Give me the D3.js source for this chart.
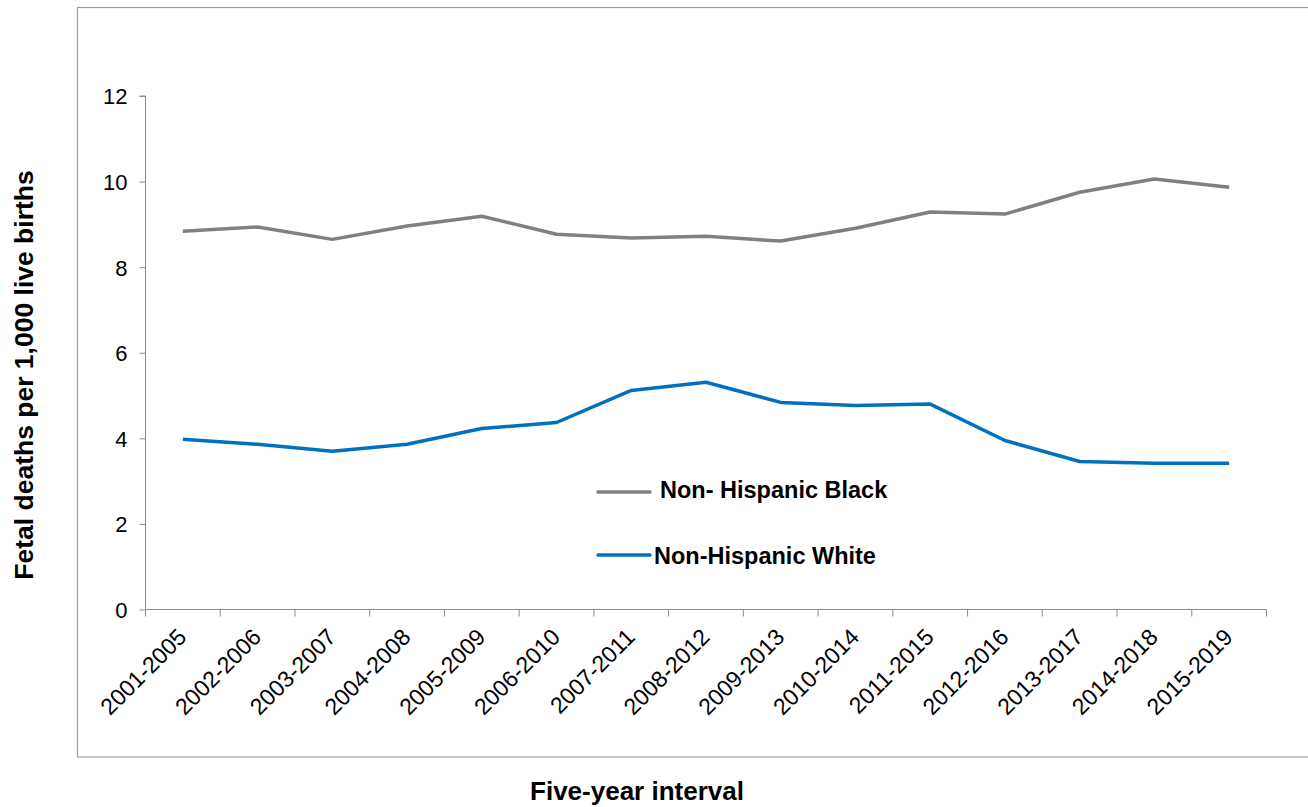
<!DOCTYPE html>
<html><head><meta charset="utf-8">
<script src="https://cdn.jsdelivr.net/npm/d3@7"></script>
<style>body{margin:0;background:#fff;}svg{display:block;font-family:"Liberation Sans",Arial,sans-serif;}</style>
</head><body>
<svg id="c" width="1308" height="807"></svg>
<script>
const categories = ["2001-2005","2002-2006","2003-2007","2004-2008","2005-2009","2006-2010","2007-2011","2008-2012","2009-2013","2010-2014","2011-2015","2012-2016","2013-2017","2014-2018","2015-2019"];
const blackValues = [8.84,8.94,8.65,8.96,9.19,8.77,8.68,8.72,8.61,8.91,9.29,9.24,9.75,10.06,9.87];
const whiteValues = [3.98,3.86,3.70,3.86,4.23,4.37,5.12,5.31,4.84,4.77,4.80,3.95,3.46,3.42,3.42];
const yTicks = [0,2,4,6,8,10,12];
const seriesNames = ["Non- Hispanic Black","Non-Hispanic White"];

const svg = d3.select("#c");
const L = 145.5, R = 1266.5, T = 96, B = 609.5;
const x = d3.scaleBand().domain(categories).range([L, R]);
const y = d3.scaleLinear().domain([0,12]).range([B, T]);
const axisColor = "#8c8c8c";

// outer frame
svg.append("rect").attr("x",77.5).attr("y",7.5).attr("width",1240).attr("height",749.5)
  .attr("fill","none").attr("stroke","#a0a0a0").attr("stroke-width",1.2);

// y axis
const ya = svg.append("g").attr("transform",`translate(${L},0)`)
  .call(d3.axisLeft(y).tickValues(yTicks).tickSize(6).tickPadding(12).tickFormat(d3.format("d")));
ya.selectAll("path,line").attr("stroke",axisColor);
ya.select(".domain").attr("d",`M-6,${T}H0V${B}`);
ya.selectAll("text").attr("font-size",22).attr("fill","#000").attr("dy","0.36em")
  .attr("font-family","Liberation Sans, Arial, sans-serif");

// x axis
const xa = svg.append("g").attr("transform",`translate(0,${B})`)
  .call(d3.axisBottom(x).tickSize(0).tickFormat(""));
xa.select(".domain").attr("stroke",axisColor).attr("d",`M${L},0H${R}`);
const bounds = categories.map(c=>x(c)).concat([R]);
xa.selectAll(".xt").data(bounds).enter().append("line").attr("class","xt")
  .attr("x1",d=>d).attr("x2",d=>d).attr("y1",0).attr("y2",7).attr("stroke",axisColor);
svg.append("g").selectAll("text").data(categories).enter().append("text")
  .attr("transform",d=>`translate(${x(d)+x.bandwidth()/2+5},${B+29}) rotate(-45)`)
  .attr("text-anchor","end").attr("font-size",23).attr("fill","#000").text(d=>d);

// lines
const line = d3.line().x((d,i)=>x(categories[i])+x.bandwidth()/2).y(d=>y(d));
svg.append("path").datum(blackValues).attr("d",line).attr("fill","none")
  .attr("stroke","#808080").attr("stroke-width",3.5).attr("stroke-linejoin","round");
svg.append("path").datum(whiteValues).attr("d",line).attr("fill","none")
  .attr("stroke","#0070C0").attr("stroke-width",3.5).attr("stroke-linejoin","round");

// legend
const leg = [{n:seriesNames[0],c:"#808080",y:492,tx:660,ty:497.5},{n:seriesNames[1],c:"#0070C0",y:555,tx:654,ty:564}];
leg.forEach(l=>{
  svg.append("line").attr("x1",598).attr("x2",650).attr("y1",l.y).attr("y2",l.y)
    .attr("stroke",l.c).attr("stroke-width",3.5).attr("stroke-linecap","round");
  svg.append("text").attr("x",l.tx).attr("y",l.ty).attr("font-size",23.5).attr("font-weight","bold")
    .attr("fill","#000").text(l.n);
});

// axis titles
svg.append("text").attr("transform","translate(33,375) rotate(-90)").attr("text-anchor","middle")
  .attr("font-size",26.5).attr("font-weight","bold").text("Fetal deaths per 1,000 live births");
svg.append("text").attr("x",637).attr("y",800).attr("text-anchor","middle")
  .attr("font-size",26).attr("font-weight","bold").text("Five-year interval");
</script>
</body></html>
